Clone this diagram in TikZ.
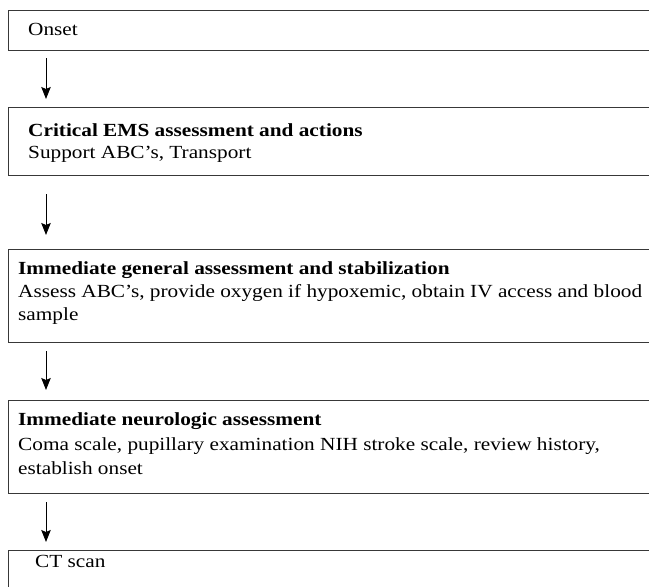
\documentclass[tikz,border=0pt]{standalone}
\usepackage{fontspec}
\setmainfont{Liberation Serif}[FakeStretch=1.15]
\usetikzlibrary{calc,arrows.meta}
\begin{document}
\begin{tikzpicture}[x=1pt,y=-1pt,
  box/.style={draw=black!78, line width=1.2pt, rectangle, anchor=north west,
              minimum width=720pt, inner sep=0pt},
  txt/.style={anchor=base west, inner sep=0pt, font=\fontsize{18.5}{23}\selectfont},
  arr/.style={draw=black, line width=0.9pt, -{Stealth[length=12pt,width=9.5pt,inset=2pt]}}]
\useasboundingbox (0,0) rectangle (649,587);
\clip (0,0) rectangle (649,587);
% boxes
\node[box, minimum height=40pt] (b1) at (8,10) {};
\node[box, minimum height=68pt] (b2) at (8,107) {};
\node[box, minimum height=93pt] (b3) at (8,249) {};
\node[box, minimum height=93pt] (b4) at (8,400) {};
\node[box, minimum height=60pt] (b5) at (8,550) {};
% texts
\node[txt] (t1) at (28,35) {Onset};
\node[txt] (t2a) at (28,136) {\textbf{Critical EMS assessment and actions}};
\node[txt] (t2b) at (28,158) {Support ABC’s, Transport};
\node[txt] (t3a) at (18,274) {\textbf{Immediate general assessment and stabilization}};
\node[txt] (t3b) at (18,297) {Assess ABC’s, provide oxygen if hypoxemic, obtain IV access and blood};
\node[txt] (t3c) at (18,320) {sample};
\node[txt] (t4a) at (18,425) {\textbf{Immediate neurologic assessment}};
\node[txt] (t4b) at (18,450) {Coma scale, pupillary examination NIH stroke scale, review history,};
\node[txt] (t4c) at (18,474) {establish onset};
\node[txt] (t5) at (35,567) {CT scan};
% arrows
\draw[arr] ($(b1.south west)+(38,7)$) -- ($(b2.north west)+(38,-8)$);
\draw[arr] ($(b2.south west)+(38,18)$) -- ($(b3.north west)+(38,-14)$);
\draw[arr] ($(b3.south west)+(38,8)$) -- ($(b4.north west)+(38,-10)$);
\draw[arr] ($(b4.south west)+(38,8)$) -- ($(b5.north west)+(38,-8)$);
\end{tikzpicture}
\end{document}
